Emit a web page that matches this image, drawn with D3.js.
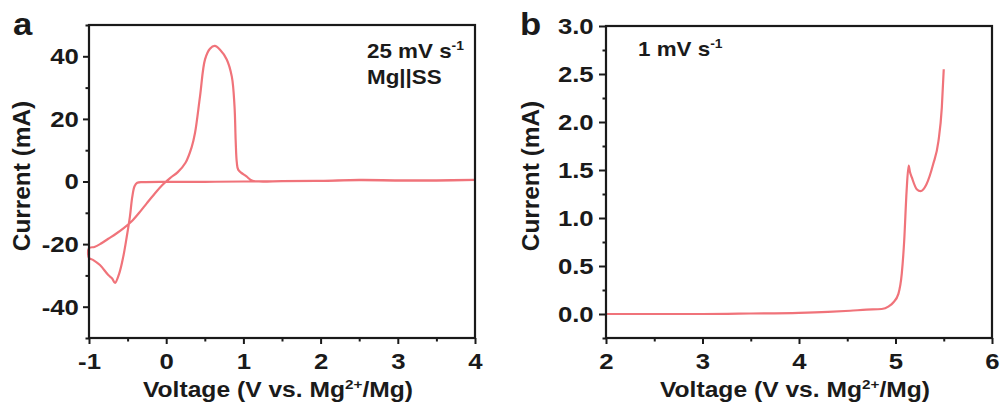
<!DOCTYPE html>
<html>
<head>
<meta charset="utf-8">
<script src="https://cdn.jsdelivr.net/npm/d3@7"></script>
<style>
  html, body { margin: 0; padding: 0; background: #fff; }
  svg { display: block; }
  text { font-family: "Liberation Sans", Arial, sans-serif; font-weight: bold; fill: #1a1a1a; }
</style>
</head>
<body>
<svg id="chart" width="1001" height="405"></svg>
<script>
// Panel a: cyclic voltammogram, Mg||SS at 25 mV/s (cathodic sweep first, then the return sweep)
const cvVoltage = [
  4.0, 3.5, 3.0, 2.5, 2.0, 1.5, 1.0, 0.5, 0.0, -0.3, -0.375, -0.41, -0.44, -0.47, -0.51, -0.556, -0.61, -0.663,
  -0.70, -0.75, -0.858, -0.944, -1.0,
  -1.0, -0.93, -0.85, -0.75, -0.65, -0.55, -0.45, -0.35, -0.25, -0.15, -0.05, 0.05, 0.15, 0.25, 0.33, 0.373,
  0.438, 0.503, 0.567, 0.63, 0.70, 0.784, 0.85, 0.885, 0.90, 0.915, 0.934, 1.04, 1.11, 1.2, 1.5, 2.0, 2.5,
  3.0, 3.5, 4.0
];
const cvCurrent = [
  0.4, 0.3, 0.3, 0.4, 0.2, 0.1, 0.0, -0.1, -0.1, -0.2, -0.4, -1.5, -5, -11.2, -17.5, -24, -29.5, -32.4,
  -31, -29.9, -26.7, -25.1, -24.4,
  -21.3, -20.9, -19.9, -18.3, -16.7, -14.9, -12.8, -10.0, -6.9, -3.9, -1.1, 1.1, 3.0, 6.0, 11.0, 15.5,
  27.2, 39.0, 42.4, 43.3, 42.0, 39.0, 33.5, 24.0, 13.0, 6.0, 3.7, 1.6, 0.3, 0.0, 0.1, 0.2, 0.5,
  0.4, 0.4, 0.5
];

// Panel b: linear sweep voltammogram at 1 mV/s
const lsvVoltage = [
  2.0, 2.5, 3.0, 3.5, 4.0, 4.3, 4.53, 4.7, 4.857, 4.93, 4.977, 5.03, 5.065, 5.09, 5.115, 5.136,
  5.15, 5.17, 5.22, 5.26, 5.32, 5.39, 5.445, 5.48, 5.50
];
const lsvCurrent = [
  0.0, 0.0, 0.0, 0.005, 0.012, 0.022, 0.034, 0.045, 0.052, 0.08, 0.12, 0.21, 0.42, 0.76, 1.28, 1.545,
  1.48, 1.42, 1.30, 1.28, 1.35, 1.56, 1.80, 2.15, 2.55
];

// Axis ticks
const aXTicks = [-1, 0, 1, 2, 3, 4];
const aYTicks = [-40, -20, 0, 20, 40];
const bXTicks = [2, 3, 4, 5, 6];
const bYTicks = [0.0, 0.5, 1.0, 1.5, 2.0, 2.5, 3.0];

const lineColor = "#f0737a";
const ink = "#1a1a1a";
const stretch = 1.12;

const svg = d3.select("#chart");
svg.append("rect").attr("width", 1001).attr("height", 405).attr("fill", "#fff");

// Text with optional superscript parts ({sup: "..."}), stretched slightly along its direction
function textBlock(parent, x, y, parts, size, opts = {}) {
  const sx = opts.stretch || stretch;
  const rot = opts.rotate ? ` rotate(${opts.rotate})` : "";
  const g = parent.append("g").attr("transform", `translate(${x},${y})${rot} scale(${sx},1)`);
  const t = g.append("text").attr("font-size", size).attr("text-anchor", opts.anchor || "start");
  const rise = size * 0.38;
  let pending = 0;
  parts.forEach(p => {
    if (typeof p === "string") {
      const s = t.append("tspan").text(p);
      if (pending) { s.attr("dy", pending); pending = 0; }
    } else {
      t.append("tspan").attr("font-size", size * 0.62).attr("dy", -rise).text(p.sup);
      pending = rise;
    }
  });
  return t;
}

function panel(cfg) {
  const g = svg.append("g");
  const x = d3.scaleLinear().domain(cfg.xDomain).range([cfg.left, cfg.right]);
  const y = d3.scaleLinear().domain(cfg.yDomain).range([cfg.bottom, cfg.top]);

  // data curve
  g.append("path")
    .datum(cfg.xs.map((v, i) => [v, cfg.ys[i]]))
    .attr("fill", "none")
    .attr("stroke", lineColor)
    .attr("stroke-width", 2.2)
    .attr("stroke-linejoin", "round")
    .attr("d", d3.line().x(d => x(d[0])).y(d => y(d[1])).curve(cfg.curve));

  // minor ticks
  g.append("g").attr("transform", `translate(0,${cfg.bottom})`)
    .call(d3.axisBottom(x).tickValues(cfg.xMinor).tickSize(3.5).tickFormat(""))
    .call(a => a.select(".domain").remove());
  g.append("g").attr("transform", `translate(${cfg.left},0)`)
    .call(d3.axisLeft(y).tickValues(cfg.yMinor).tickSize(3.5).tickFormat(""))
    .call(a => a.select(".domain").remove());

  // major ticks and labels
  const xa = g.append("g").attr("transform", `translate(0,${cfg.bottom})`)
    .call(d3.axisBottom(x).tickValues(cfg.xTicks).tickSize(6).tickPadding(9).tickFormat(cfg.xFmt));
  const ya = g.append("g").attr("transform", `translate(${cfg.left},0)`)
    .call(d3.axisLeft(y).tickValues(cfg.yTicks).tickSize(cfg.yTickSize).tickPadding(cfg.yPad).tickFormat(cfg.yFmt));
  [xa, ya].forEach(a => {
    a.select(".domain").remove();
    a.selectAll("text").attr("font-size", 23).attr("font-family", null).attr("fill", ink)
      .attr("transform", `scale(${stretch},1)`)
      .text(function() { return this.textContent.replace("\u2212", "-"); });
  });
  g.selectAll(".tick line").attr("stroke", ink).attr("stroke-width", 2);

  // frame
  g.append("rect")
    .attr("x", cfg.left).attr("y", cfg.top)
    .attr("width", cfg.right - cfg.left).attr("height", cfg.bottom - cfg.top)
    .attr("fill", "none").attr("stroke", ink).attr("stroke-width", 2.2);

  // titles
  textBlock(svg, (cfg.left + cfg.right) / 2 - 4, 397, ["Voltage (V vs. Mg", { sup: "2+" }, "/Mg)"], 22, { anchor: "middle" });
  textBlock(svg, cfg.yTitleX, cfg.yTitleY, ["Current (mA)"], 23, { anchor: "middle", rotate: -90, stretch: 1.06 });
  return g;
}

panel({
  left: 89, right: 475, top: 25, bottom: 338,
  xDomain: [-1, 4], yDomain: [-50, 50],
  xs: cvVoltage, ys: cvCurrent,
  curve: d3.curveCatmullRom.alpha(0.5),
  xTicks: aXTicks, yTicks: aYTicks,
  xMinor: [-0.5, 0.5, 1.5, 2.5, 3.5],
  yMinor: [-50, -30, -10, 10, 30, 50],
  xFmt: d3.format("d"), yFmt: d3.format("d"),
  yTickSize: 6, yPad: 3,
  yTitleX: 30, yTitleY: 176
});

panel({
  left: 606, right: 992, top: 26, bottom: 338,
  xDomain: [2, 6], yDomain: [-0.25, 3.0],
  xs: lsvVoltage, ys: lsvCurrent,
  curve: d3.curveMonotoneX,
  xTicks: bXTicks, yTicks: bYTicks,
  xMinor: [2.5, 3.5, 4.5, 5.5],
  yMinor: [-0.25, 0.25, 0.75, 1.25, 1.75, 2.25, 2.75],
  xFmt: d3.format("d"), yFmt: d3.format(".1f"),
  yTickSize: 7, yPad: 4,
  yTitleX: 539, yTitleY: 176
});

// Panel letters
textBlock(svg, 13, 35, ["a"], 31);
textBlock(svg, 520, 35, ["b"], 31);

// Annotations
textBlock(svg, 367, 58, ["25 mV s", { sup: "-1" }], 20);
textBlock(svg, 367, 84, ["Mg||SS"], 20);
textBlock(svg, 638, 56, ["1 mV s", { sup: "-1" }], 20);
</script>
</body>
</html>
